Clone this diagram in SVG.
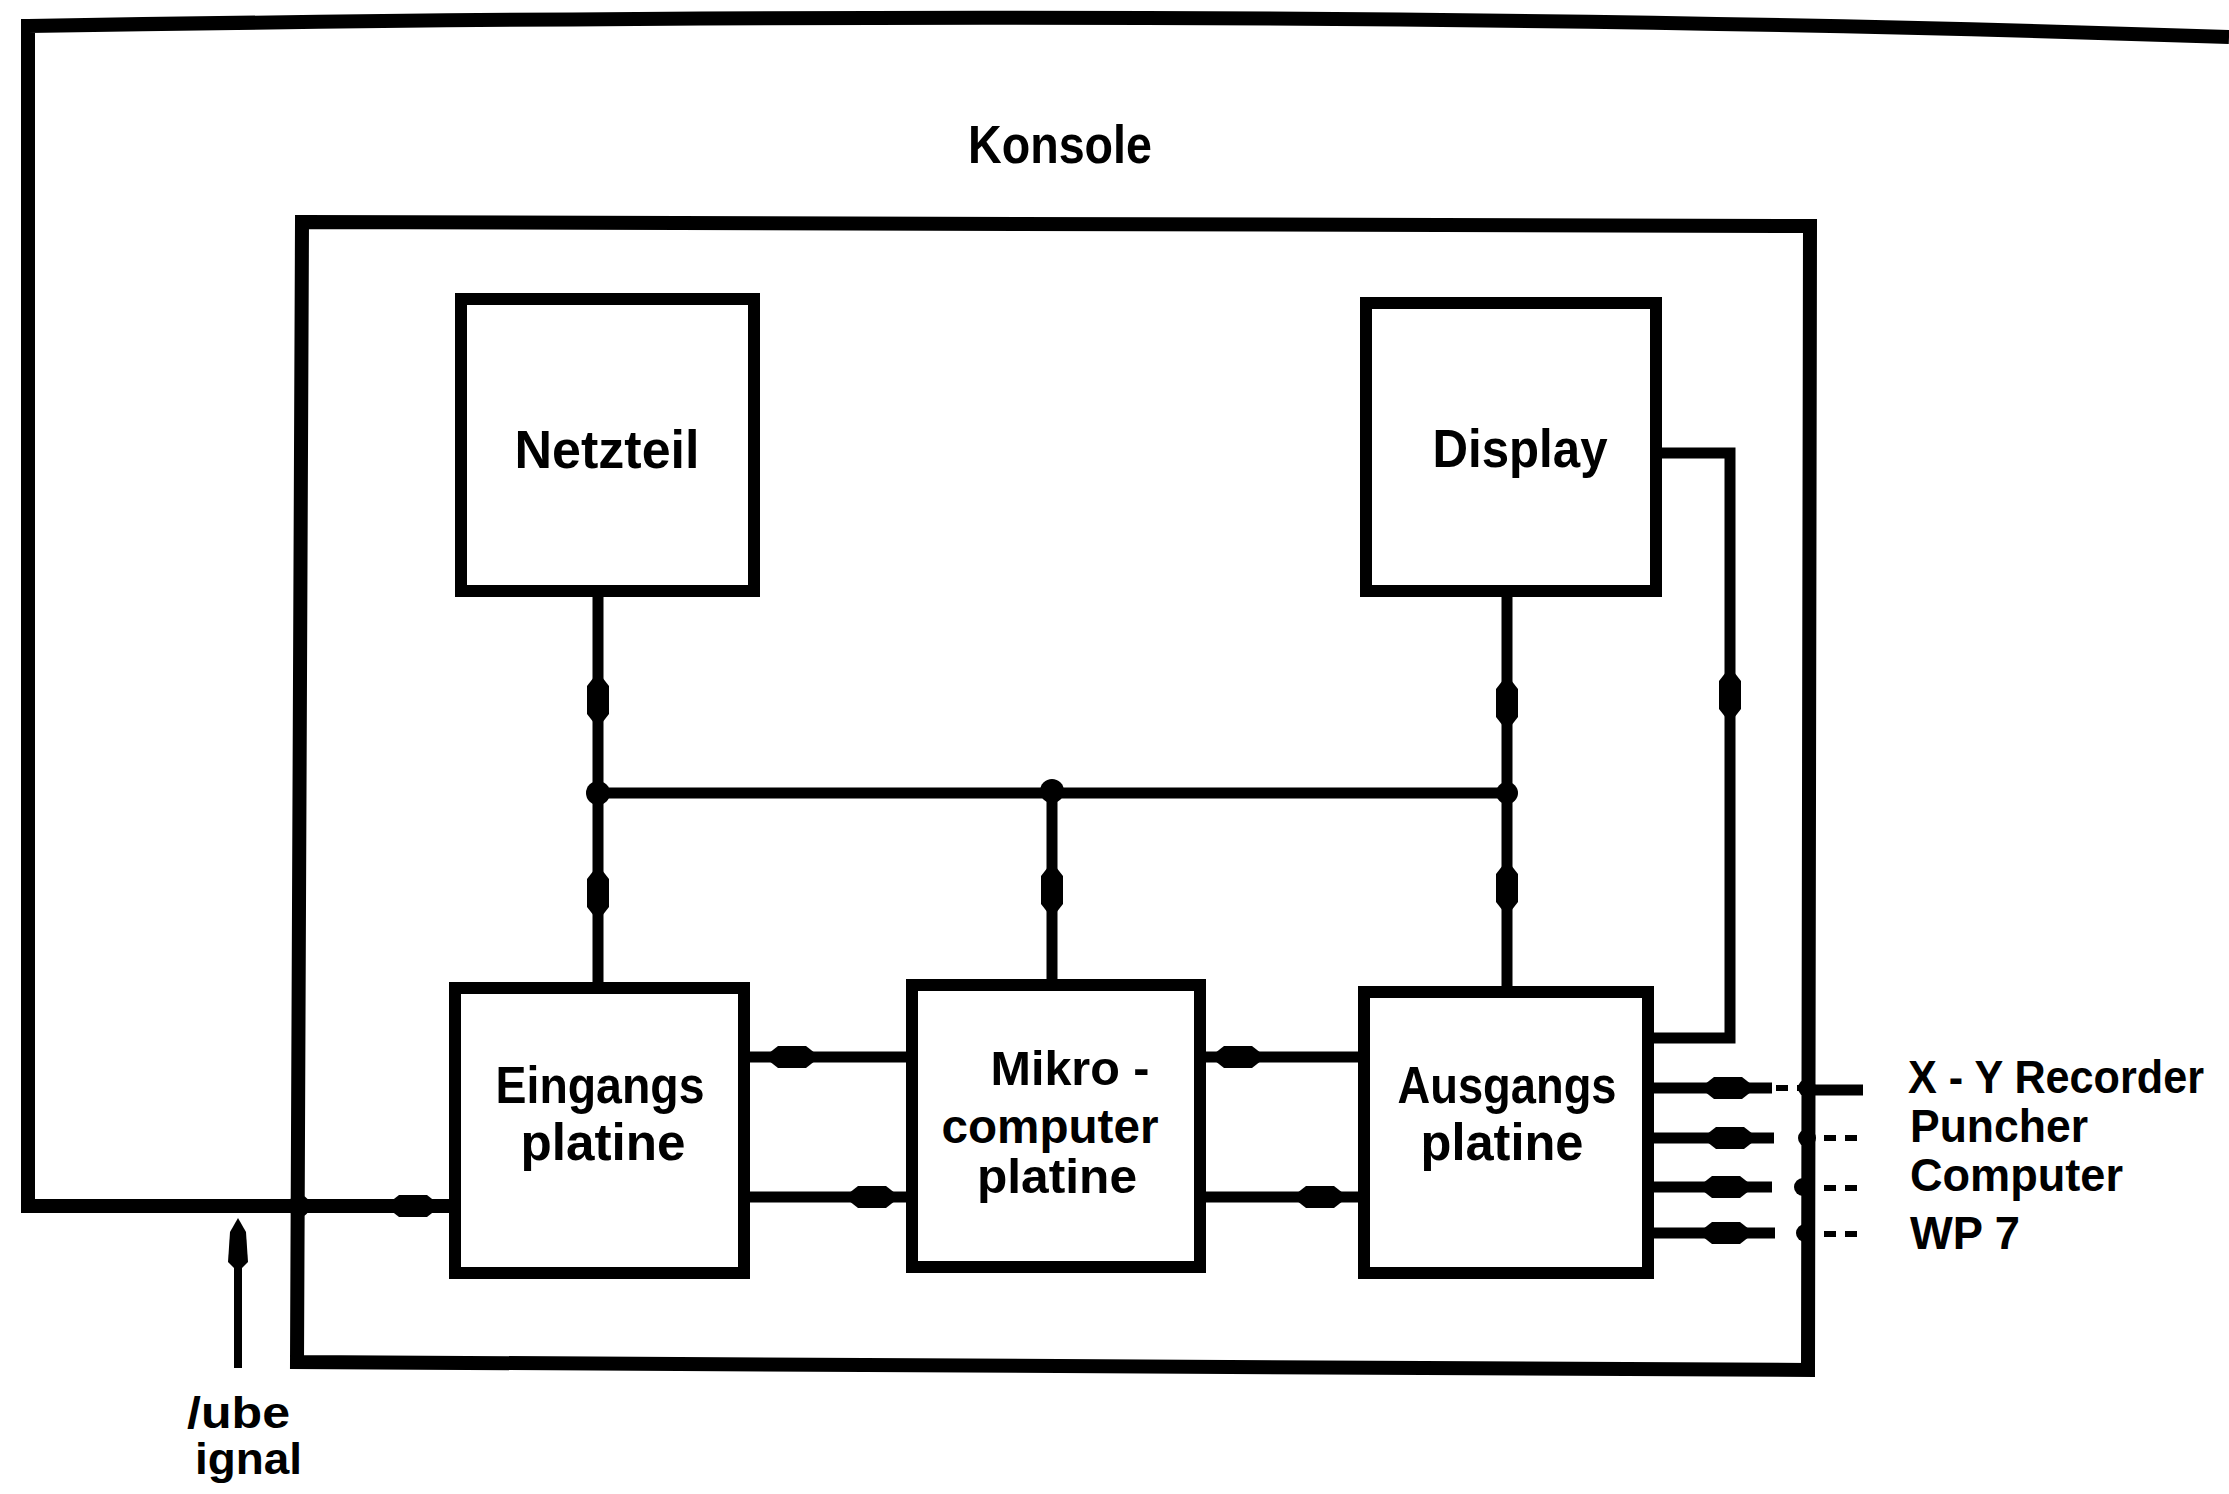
<svg xmlns="http://www.w3.org/2000/svg" width="2229" height="1494" viewBox="0 0 2229 1494">
<style>
.frame{fill:none;stroke:#000;stroke-width:14;stroke-linejoin:miter}
.box{fill:#fff;stroke:#000;stroke-width:12}
.wire{fill:none;stroke:#000;stroke-width:11}
.thin{fill:none;stroke:#000;stroke-width:8}
.dash{fill:none;stroke:#000;stroke-width:6;stroke-dasharray:12 9}
.lbl{font-family:"Liberation Sans Narrow","Liberation Sans",Arial,sans-serif;font-weight:bold;fill:#000;text-anchor:middle}
.lblL{font-family:"Liberation Sans Narrow","Liberation Sans",Arial,sans-serif;font-weight:bold;fill:#000}
</style>
<defs>
<polygon id="blob" points="-28,0 -14,-11 14,-11 28,0 14,11 -14,11" fill="#000"/>
</defs>
<rect width="2229" height="1494" fill="#fff"/>

<g id="outer-frame">
<path class="frame" d="M2229,37 Q1300,5 28,26 L28,1206 L455,1206"/>
<text class="lbl" x="1060" y="163" font-size="54" textLength="184" lengthAdjust="spacingAndGlyphs">Konsole</text>
</g>

<g id="console-frame">
<polygon class="frame" stroke-width="16" points="302,222 1810,226 1808,1370 297,1362"/>
</g>

<g id="connectors">
<line class="wire" x1="598" y1="793" x2="1507" y2="793"/>
<circle cx="598" cy="793" r="12"/>
<circle cx="1052" cy="791" r="12"/>
<circle cx="1507" cy="793" r="11"/>
<line class="wire" x1="598" y1="597" x2="598" y2="988"/>
<use href="#blob" transform="translate(598,700) rotate(90)"/>
<use href="#blob" transform="translate(598,893) rotate(90)"/>
<line class="wire" x1="1052" y1="793" x2="1052" y2="985"/>
<use href="#blob" transform="translate(1052,890) rotate(90)"/>
<line class="wire" x1="1507" y1="597" x2="1507" y2="992"/>
<use href="#blob" transform="translate(1507,703) rotate(90)"/>
<use href="#blob" transform="translate(1507,888) rotate(90)"/>
<polyline class="wire" points="1656,453 1730,453 1730,1038 1648,1038"/>
<use href="#blob" transform="translate(1730,695) rotate(90)"/>
<line class="wire" x1="744" y1="1057" x2="912" y2="1057"/>
<use href="#blob" transform="translate(792,1057)"/>
<line class="wire" x1="744" y1="1197" x2="912" y2="1197"/>
<use href="#blob" transform="translate(872,1197)"/>
<line class="wire" x1="1200" y1="1057" x2="1364" y2="1057"/>
<use href="#blob" transform="translate(1238,1057)"/>
<line class="wire" x1="1200" y1="1197" x2="1364" y2="1197"/>
<use href="#blob" transform="translate(1320,1197)"/>
<use href="#blob" transform="translate(413,1206)"/>
<circle cx="299" cy="1206" r="11"/>
<line class="thin" x1="238" y1="1368" x2="238" y2="1250"/>
<polygon points="238,1218 246,1232 248,1262 238,1272 228,1262 230,1232" fill="#000"/>
<line class="wire" x1="1648" y1="1088" x2="1772" y2="1088"/>
<line class="dash" x1="1776" y1="1088" x2="1800" y2="1088"/>
<line class="wire" x1="1812" y1="1090" x2="1863" y2="1090"/>
<use href="#blob" transform="translate(1728,1088)"/>
<circle cx="1807" cy="1088" r="9"/>
<line class="wire" x1="1648" y1="1138" x2="1774" y2="1138"/>
<line class="dash" x1="1824" y1="1138" x2="1863" y2="1138"/>
<use href="#blob" transform="translate(1730,1138)"/>
<circle cx="1807" cy="1138" r="9"/>
<line class="wire" x1="1648" y1="1187" x2="1772" y2="1187"/>
<line class="dash" x1="1824" y1="1188" x2="1863" y2="1188"/>
<use href="#blob" transform="translate(1726,1187)"/>
<circle cx="1803" cy="1187" r="9"/>
<line class="wire" x1="1648" y1="1233" x2="1775" y2="1233"/>
<line class="dash" x1="1824" y1="1234" x2="1863" y2="1234"/>
<use href="#blob" transform="translate(1726,1233)"/>
<circle cx="1805" cy="1233" r="9"/>
</g>

<g id="netzteil">
<rect class="box" x="461" y="299" width="293" height="292"/>
<text class="lbl" x="607" y="468" font-size="54" textLength="185" lengthAdjust="spacingAndGlyphs">Netzteil</text>
</g>

<g id="display">
<rect class="box" x="1366" y="303" width="290" height="288"/>
<text class="lbl" x="1520" y="467" font-size="54" textLength="175" lengthAdjust="spacingAndGlyphs">Display</text>
</g>

<g id="eingangsplatine">
<rect class="box" x="455" y="988" width="289" height="285"/>
<text class="lbl" x="600" y="1103" font-size="52" textLength="209" lengthAdjust="spacingAndGlyphs">Eingangs</text>
<text class="lbl" x="603" y="1160" font-size="52" textLength="165" lengthAdjust="spacingAndGlyphs">platine</text>
</g>

<g id="mikrocomputerplatine">
<rect class="box" x="912" y="985" width="288" height="282"/>
<text class="lbl" x="1070" y="1085" font-size="48" textLength="159" lengthAdjust="spacingAndGlyphs">Mikro -</text>
<text class="lbl" x="1050" y="1143" font-size="48" textLength="217" lengthAdjust="spacingAndGlyphs">computer</text>
<text class="lbl" x="1057" y="1193" font-size="48" textLength="160" lengthAdjust="spacingAndGlyphs">platine</text>
</g>

<g id="ausgangsplatine">
<rect class="box" x="1364" y="992" width="284" height="281"/>
<text class="lbl" x="1507" y="1103" font-size="52" textLength="219" lengthAdjust="spacingAndGlyphs">Ausgangs</text>
<text class="lbl" x="1502" y="1160" font-size="52" textLength="163" lengthAdjust="spacingAndGlyphs">platine</text>
</g>

<g id="output-labels">
<text class="lblL" x="1908" y="1093" font-size="46" textLength="296" lengthAdjust="spacingAndGlyphs">X - Y Recorder</text>
<text class="lblL" x="1910" y="1142" font-size="46" textLength="178" lengthAdjust="spacingAndGlyphs">Puncher</text>
<text class="lblL" x="1910" y="1191" font-size="46" textLength="213" lengthAdjust="spacingAndGlyphs">Computer</text>
<text class="lblL" x="1910" y="1249" font-size="46" textLength="110" lengthAdjust="spacingAndGlyphs">WP 7</text>
</g>

<g id="signal-label">
<text class="lblL" x="187" y="1428" font-size="44" textLength="103" lengthAdjust="spacingAndGlyphs">/ube</text>
<text class="lblL" x="195" y="1474" font-size="44" textLength="107" lengthAdjust="spacingAndGlyphs">ignal</text>
</g>
</svg>
